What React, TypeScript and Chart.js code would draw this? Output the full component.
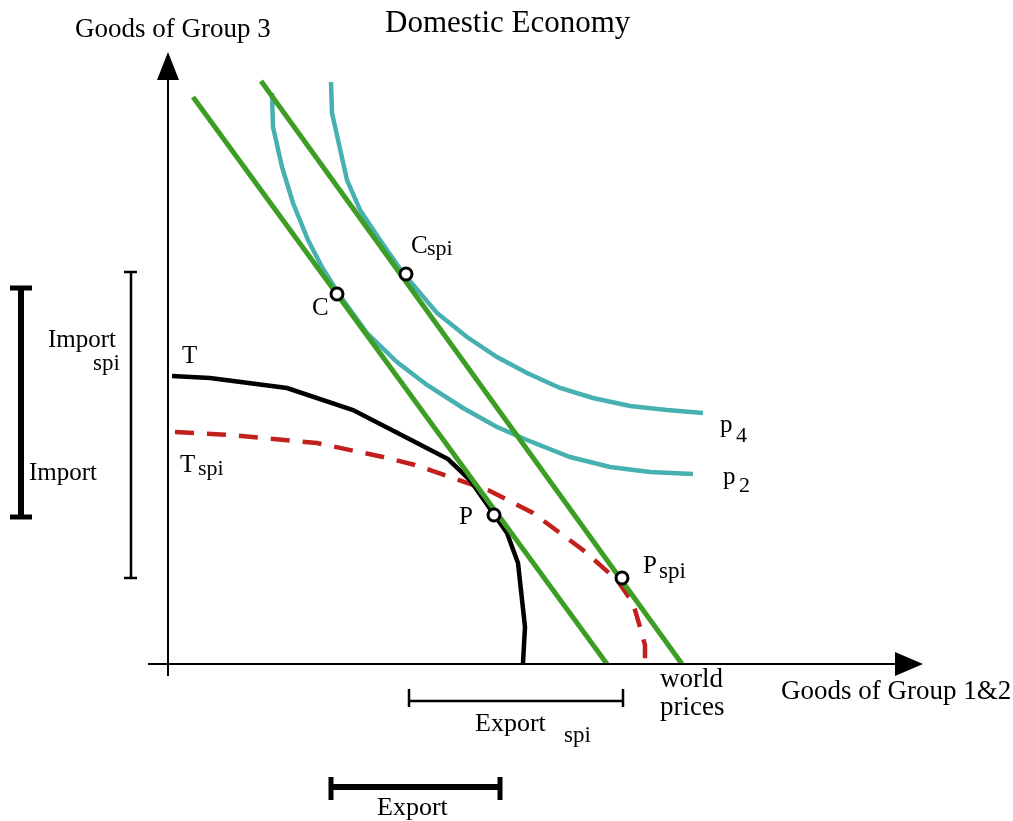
import React, { useEffect, useRef } from "react";
import { Chart, registerables } from "chart.js";

Chart.register(...registerables);

// ---- Data (diagram units: origin at the axes' crossing, y upwards) ----
const worldPriceLine = [[25, 567], [439, 0]];
const worldPriceLineSpi = [[93, 583], [514, 0]];

const indifferenceP2 = [
  [104, 571], [105, 537], [114, 497], [125, 461], [140, 424], [154, 397],
  [170, 371], [199, 331], [229, 302], [259, 279], [295, 256], [329, 237],
  [359, 224], [402, 207], [442, 197], [482, 192], [525, 190],
];
const indifferenceP4 = [
  [163, 582], [164, 551], [179, 484], [192, 454], [212, 424], [235, 391],
  [269, 351], [299, 327], [329, 307], [359, 291], [392, 276], [425, 266],
  [462, 258], [499, 254], [535, 251],
];
const frontierT = [
  [4, 288], [42, 286], [119, 276], [185, 254], [249, 221], [280, 205],
  [302, 184], [325, 151], [339, 131], [350, 101], [357, 37], [355, 1],
];
const frontierTspi = [
  [7, 232], [62, 229], [149, 221], [215, 207], [247, 199], [320, 174],
  [365, 151], [415, 114], [449, 84], [465, 61], [472, 37], [477, 19], [477, 4],
];
const pointC = [[169, 370]];
const pointCspi = [[238, 390]];
const pointP = [[326, 149]];
const pointPspi = [[454, 86]];

const xAxisLine = [[-20, 0], [727, 0]];
const yAxisLine = [[0, -12], [0, 584]];
const xArrowHead = [[727, 12], [755, 0], [727, -12]];
const yArrowHead = [[-11, 584], [0, 612], [11, 584]];

const importBracket = [[-147, 376], [-147, 147]];
const importBracketCaps = [[[-158, 376], [-136, 376]], [[-158, 147], [-136, 147]]];
const importSpiBracket = [[-37, 392], [-37, 86]];
const importSpiBracketCaps = [[[-44, 392], [-31, 392]], [[-44, 86], [-31, 86]]];
const exportSpiBracket = [[241, -37], [455, -37]];
const exportSpiBracketCaps = [[[241, -25], [241, -43]], [[455, -25], [455, -43]]];
const exportBracket = [[163, -123], [332, -123]];
const exportBracketCaps = [[[163, -113], [163, -136]], [[332, -113], [332, -136]]];

// scale bounds (page pixels mapped to diagram units)
const X_MIN = -168;
const X_MAX = 845;
const Y_MIN = -157;
const Y_MAX = 664;

const FONT = '"Liberation Serif", "Times New Roman", serif';

// text: [text, x, y(baseline), size]
const labels: [string, number, number, number][] = [
  ["Domestic Economy", 217, 632, 31],
  ["Goods of Group 3", -93, 627, 27],
  ["Goods of Group 1&2", 613, -35, 27],
  ["world", 492, -23, 27],
  ["prices", 492, -51, 27],
  ["T", 14, 301, 25],
  ["T", 12, 192, 25],
  ["spi", 30, 189, 22],
  ["C", 144, 349, 25],
  ["C", 243, 411, 25],
  ["spi", 259, 409, 22],
  ["P", 291, 140, 25],
  ["P", 475, 91, 25],
  ["spi", 491, 86, 23],
  ["p", 552, 232, 25],
  ["4", 568, 222, 22],
  ["p", 555, 180, 25],
  ["2", 571, 172, 22],
  ["Import", -120, 317, 25],
  ["spi", -75, 294, 23],
  ["Import", -139, 184, 25],
  ["Export", 307, -67, 26],
  ["spi", 396, -78, 23],
  ["Export", 209, -151, 26],
];

const toPts = (a: number[][]) => a.map(([x, y]) => ({ x, y }));

const GREEN = "#3d9e25";
const TEAL = "#47b0b0";
const RED = "#c1201d";
const BLACK = "#000000";

function lineDs(data: number[][], color: string, width: number, extra: any = {}) {
  return {
    data: toPts(data),
    showLine: true,
    borderColor: color,
    backgroundColor: color,
    borderWidth: width,
    pointRadius: 0,
    pointHoverRadius: 0,
    tension: 0,
    fill: false,
    clip: false,
    ...extra,
  };
}

function markerDs(data: number[][]) {
  return {
    data: toPts(data),
    showLine: false,
    pointRadius: 6,
    pointHoverRadius: 6,
    pointBorderWidth: 3,
    pointBorderColor: BLACK,
    pointBackgroundColor: "#ffffff",
    clip: false,
  };
}

const overlayPlugin = {
  id: "overlay",
  afterDatasetsDraw(chart: any) {
    const { ctx, scales } = chart;
    const sx = scales.x;
    const sy = scales.y;
    ctx.save();
    ctx.fillStyle = BLACK;
    for (const head of [xArrowHead, yArrowHead]) {
      ctx.beginPath();
      head.forEach(([x, y], i) => {
        const px = sx.getPixelForValue(x);
        const py = sy.getPixelForValue(y);
        if (i === 0) ctx.moveTo(px, py);
        else ctx.lineTo(px, py);
      });
      ctx.closePath();
      ctx.fill();
    }
    ctx.textBaseline = "alphabetic";
    ctx.textAlign = "left";
    for (const [t, x, y, s] of labels) {
      ctx.font = `${s}px ${FONT}`;
      ctx.fillText(t, sx.getPixelForValue(x), sy.getPixelForValue(y));
    }
    ctx.restore();
  },
};

export default function App() {
  const ref = useRef<HTMLCanvasElement | null>(null);

  useEffect(() => {
    if (!ref.current) return;
    const datasets: any[] = [
      markerDs(pointC),
      markerDs(pointCspi),
      markerDs(pointP),
      markerDs(pointPspi),
      lineDs(xAxisLine, BLACK, 2),
      lineDs(yAxisLine, BLACK, 2),
      lineDs(worldPriceLine, GREEN, 5),
      lineDs(worldPriceLineSpi, GREEN, 5),
      lineDs(frontierT, BLACK, 4.5),
      lineDs(frontierTspi, RED, 4.5, { borderDash: [19, 13] }),
      lineDs(indifferenceP4, TEAL, 4.5),
      lineDs(indifferenceP2, TEAL, 4.5),
      lineDs(importBracket, BLACK, 6),
      ...importBracketCaps.map((c) => lineDs(c, BLACK, 5)),
      lineDs(importSpiBracket, BLACK, 2.5),
      ...importSpiBracketCaps.map((c) => lineDs(c, BLACK, 2.5)),
      lineDs(exportSpiBracket, BLACK, 2.5),
      ...exportSpiBracketCaps.map((c) => lineDs(c, BLACK, 2.5)),
      lineDs(exportBracket, BLACK, 6),
      ...exportBracketCaps.map((c) => lineDs(c, BLACK, 5)),
    ];
    const chart = new Chart(ref.current, {
      type: "scatter",
      data: { datasets },
      options: {
        animation: false,
        responsive: false,
        maintainAspectRatio: false,
        layout: { padding: 0, autoPadding: false },
        events: [],
        plugins: {
          legend: { display: false },
          tooltip: { enabled: false },
          title: { display: false },
        },
        scales: {
          x: { type: "linear", display: false, min: X_MIN, max: X_MAX },
          y: { type: "linear", display: false, min: Y_MIN, max: Y_MAX },
        },
      },
      plugins: [overlayPlugin],
    } as any);
    return () => chart.destroy();
  }, []);

  return (
    <div
      style={{
        position: "fixed",
        left: 0,
        top: 0,
        width: 1013,
        height: 821,
        background: "#ffffff",
      }}
    >
      <canvas ref={ref} width={1013} height={821} style={{ width: 1013, height: 821, display: "block" }} />
    </div>
  );
}
